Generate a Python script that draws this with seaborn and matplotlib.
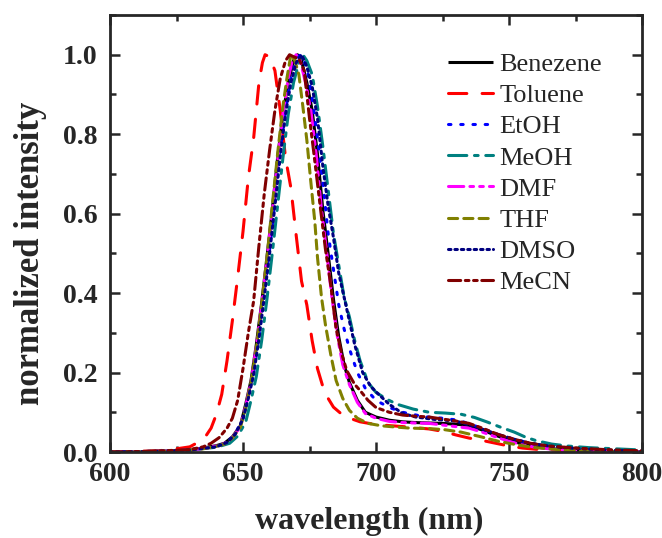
import numpy as np
import pandas as pd
import matplotlib
matplotlib.use("Agg")
import matplotlib.pyplot as plt
import seaborn as sns
from matplotlib.ticker import MultipleLocator

# ---------------- data ----------------
benzene_x = [600, 610, 620, 630, 635, 640, 643, 646, 649, 651, 653, 655, 657, 659, 661, 663, 665, 667, 669,
             670.5, 672, 674, 676, 678, 680, 682, 684, 686, 688, 690, 693, 696, 700, 705, 710, 715, 720, 725,
             730, 735, 740, 745, 750, 755, 760, 765, 770, 780, 790, 800]
benzene_y = [0.0, 0.0, 0.002, 0.006, 0.01, 0.016, 0.022, 0.038, 0.066, 0.12, 0.18, 0.27, 0.375, 0.49, 0.61,
             0.74, 0.85, 0.93, 0.985, 1.0, 0.985, 0.93, 0.86, 0.75, 0.61, 0.50, 0.385, 0.29, 0.22, 0.175, 0.13,
             0.10, 0.088, 0.08, 0.076, 0.074, 0.073, 0.072, 0.07, 0.067, 0.055, 0.042, 0.03, 0.02, 0.013,
             0.009, 0.006, 0.003, 0.001, 0.0]

toluene_x = [600, 610, 620, 625, 630, 633, 636, 638, 640, 642, 644, 646, 648, 650, 652, 654, 656, 657.3,
             658.3, 660, 662, 664, 666, 668, 670, 672, 674, 676, 678, 680, 682, 684, 688, 694, 700, 710, 720,
             725, 730, 735, 740, 745, 750, 755, 760, 770, 780, 800]
toluene_y = [0.0, 0.001, 0.004, 0.008, 0.013, 0.024, 0.04, 0.06, 0.095, 0.145, 0.23, 0.33, 0.44, 0.555,
             0.69, 0.79, 0.93, 0.98, 1.0, 0.995, 0.96, 0.86, 0.74, 0.665, 0.545, 0.43, 0.37, 0.28, 0.21,
             0.165, 0.135, 0.113, 0.09, 0.076, 0.069, 0.064, 0.058, 0.052, 0.043, 0.035, 0.029, 0.022, 0.015,
             0.01, 0.007, 0.004, 0.002, 0.0]

etoh_x = [600, 620, 630, 640, 644, 647, 650, 652, 654, 656, 658, 660, 662, 664, 666, 668, 670, 671.5, 673,
          674.5, 676, 678, 680, 682, 684, 686, 688, 690, 693, 696, 700, 705, 710, 718, 725, 731, 738, 746,
          752, 758, 764, 770, 780, 790, 800]
etoh_y = [0.0, 0.002, 0.005, 0.013, 0.024, 0.045, 0.085, 0.14, 0.2, 0.29, 0.4, 0.51, 0.63, 0.76, 0.86, 0.94,
          0.985, 1.0, 0.985, 0.95, 0.89, 0.79, 0.68, 0.55, 0.46, 0.37, 0.31, 0.26, 0.2, 0.16, 0.13, 0.112,
          0.1, 0.089, 0.085, 0.08, 0.064, 0.044, 0.032, 0.022, 0.016, 0.012, 0.007, 0.004, 0.002]

meoh_x = [600, 620, 630, 640, 645, 648, 651, 653, 655, 657, 659, 661, 663, 665, 667, 669, 671, 672.5, 674,
          676, 678, 680, 682, 684, 686, 688, 690, 692, 694, 697, 700, 704, 708, 714, 720, 726, 732, 737, 742,
          747, 752, 756, 760, 766, 772, 780, 790, 800]
meoh_y = [0.0, 0.002, 0.005, 0.012, 0.022, 0.04, 0.075, 0.13, 0.19, 0.28, 0.385, 0.5, 0.62, 0.74, 0.85, 0.93,
          0.98, 1.0, 0.985, 0.95, 0.87, 0.77, 0.66, 0.55, 0.47, 0.39, 0.34, 0.28, 0.23, 0.175, 0.15, 0.133,
          0.12, 0.108, 0.1, 0.098, 0.095, 0.087, 0.075, 0.062, 0.05, 0.038, 0.029, 0.02, 0.015, 0.011, 0.008,
          0.005]

dmf_x = [600, 610, 620, 630, 635, 640, 643, 646, 649, 651, 653, 655, 657, 659, 661, 663, 665, 667, 668.5,
         670, 671.5, 673.5, 675.5, 677.5, 679.5, 681.5, 683.5, 685.5, 687.5, 690, 693, 696, 700, 705, 710, 715,
         720, 725, 730, 735, 740, 745, 750, 755, 760, 765, 770, 780, 790, 800]
dmf_y = [0.0, 0.0, 0.002, 0.005, 0.009, 0.015, 0.021, 0.036, 0.064, 0.115, 0.175, 0.265, 0.37, 0.485, 0.605,
         0.735, 0.85, 0.94, 0.985, 1.0, 0.985, 0.93, 0.86, 0.75, 0.61, 0.50, 0.385, 0.29, 0.22, 0.17, 0.125,
         0.097, 0.085, 0.077, 0.074, 0.073, 0.072, 0.068, 0.064, 0.06, 0.05, 0.038, 0.027, 0.018, 0.012,
         0.008, 0.005, 0.002, 0.001, 0.0]

thf_x = [600, 610, 620, 630, 635, 640, 643, 646, 649, 651, 653, 655, 657, 659, 661, 663, 665, 666.5, 668,
         669.5, 671, 672.5, 674, 675.5, 677, 678, 679.5, 681, 683, 685, 687.5, 690, 693, 697, 702, 707, 713,
         720, 726, 732, 739, 746, 753, 760, 765, 770, 780, 790, 800]
thf_y = [0.0, 0.0, 0.002, 0.005, 0.008, 0.014, 0.02, 0.035, 0.062, 0.11, 0.175, 0.26, 0.37, 0.49, 0.62, 0.75,
         0.87, 0.94, 1.0, 0.985, 0.95, 0.87, 0.785, 0.68, 0.58, 0.49, 0.39, 0.32, 0.245, 0.18, 0.135, 0.105,
         0.085, 0.072, 0.066, 0.063, 0.06, 0.059, 0.056, 0.05, 0.039, 0.027, 0.018, 0.011, 0.008, 0.005,
         0.002, 0.001, 0.0]

dmso_x = [600, 620, 630, 640, 644, 647, 650, 652, 654, 656, 658, 660, 662, 664, 666, 668, 670, 672, 674,
          676, 678, 680, 682, 684, 686, 688, 690, 692, 695, 698, 701, 705, 710, 715, 722, 730, 738, 746, 752,
          758, 765, 775, 790, 800]
dmso_y = [0.0, 0.002, 0.005, 0.013, 0.024, 0.044, 0.083, 0.135, 0.195, 0.285, 0.39, 0.5, 0.62, 0.745, 0.85,
          0.93, 0.98, 1.0, 0.97, 0.92, 0.84, 0.72, 0.62, 0.54, 0.45, 0.39, 0.33, 0.27, 0.2, 0.165, 0.145,
          0.12, 0.097, 0.088, 0.082, 0.078, 0.062, 0.044, 0.032, 0.022, 0.015, 0.009, 0.004, 0.002]

mecn_x = [600, 610, 620, 630, 635, 638, 641, 644, 646, 648, 650, 652, 654, 656, 658, 660, 662, 664, 666,
          667.5, 669, 671, 673, 675, 676.5, 679, 681, 683, 685, 687, 689, 692, 694, 697, 700, 705, 710, 715,
          720, 725, 730, 735, 740, 746, 752, 758, 765, 777, 790, 800]
mecn_y = [0.0, 0.001, 0.003, 0.006, 0.013, 0.022, 0.036, 0.06, 0.085, 0.13, 0.21, 0.3, 0.38, 0.52, 0.65,
          0.76, 0.86, 0.94, 0.985, 1.0, 0.995, 0.99, 0.96, 0.84, 0.76, 0.62, 0.51, 0.42, 0.31, 0.25, 0.205,
          0.17, 0.155, 0.13, 0.112, 0.1, 0.093, 0.09, 0.088, 0.083, 0.078, 0.072, 0.06, 0.044, 0.032, 0.022,
          0.015, 0.009, 0.005, 0.003]

series_names = ["Benezene", "Toluene", "EtOH", "MeOH", "DMF", "THF", "DMSO", "MeCN"]
series_x = [benzene_x, toluene_x, etoh_x, meoh_x, dmf_x, thf_x, dmso_x, mecn_x]
series_y = [benzene_y, toluene_y, etoh_y, meoh_y, dmf_y, thf_y, dmso_y, mecn_y]

x_ticks = [600, 650, 700, 750, 800]
y_ticks = [0.0, 0.2, 0.4, 0.6, 0.8, 1.0]
x_label = "wavelength (nm)"
y_label = "normalized intensity"

# ---------------- styling ----------------
colors = ["#000000", "#FF0000", "#0000FF", "#008080", "#FF00FF", "#808000", "#000080", "#800000"]
dashes = ["-", (0, (6, 5)), (0, (0.8, 3.2)), (0, (6, 2.5, 1.2, 2.5)), (0, (5, 2, 1.2, 2, 1.2, 2)),
          (0, (3, 2)), (0, (0.8, 1.3)), (0, (4, 1.5, 1.2, 1.5, 1.2, 1.5))]

sns.set_style("ticks")
plt.rcParams["font.family"] = ["Liberation Serif", "DejaVu Serif"]

fig = plt.figure(figsize=(6.62, 5.38), dpi=100)
ax = fig.add_axes([110 / 662, 86 / 538, 532 / 662, 437 / 538])

for name, xs, ys, c, ls in zip(series_names, series_x, series_y, colors, dashes):
    df = pd.DataFrame({"wl": xs, "I": ys})
    sns.lineplot(data=df, x="wl", y="I", ax=ax, color=c, linestyle=ls, linewidth=2.2,
                 label=name, dash_capstyle="round", solid_capstyle="butt")

ax.set_xlim(600, 800)
ax.set_ylim(0, 1.1)
ax.set_xticks(x_ticks)
ax.set_yticks(y_ticks)
ax.set_yticklabels([f"{v:.1f}" for v in y_ticks])
ax.xaxis.set_minor_locator(MultipleLocator(25))
ax.yaxis.set_minor_locator(MultipleLocator(0.1))
ax.tick_params(which="both", direction="in", top=True, right=True, width=1.8)
ax.tick_params(which="major", length=7, labelsize=20)
ax.tick_params(axis="y", which="major", pad=9)
ax.tick_params(axis="x", which="major", pad=7)
ax.tick_params(which="minor", length=4)
for lab in ax.get_xticklabels() + ax.get_yticklabels():
    lab.set_fontweight("bold")
for sp in ax.spines.values():
    sp.set_linewidth(2.0)
    sp.set_visible(True)

ax.set_xlabel(x_label, fontsize=23, fontweight="bold")
ax.set_ylabel(y_label, fontsize=25, fontweight="bold")
ax.xaxis.set_label_coords(0.487, -0.125)
ax.yaxis.set_label_coords(-0.118, 0.455)

leg = ax.legend(loc="upper right", frameon=False, fontsize=19, handlelength=1.7,
                handletextpad=0.25, labelspacing=0.29, borderaxespad=0.2,
                bbox_to_anchor=(0.955, 0.95))

fig.savefig("out.png", dpi=100)
